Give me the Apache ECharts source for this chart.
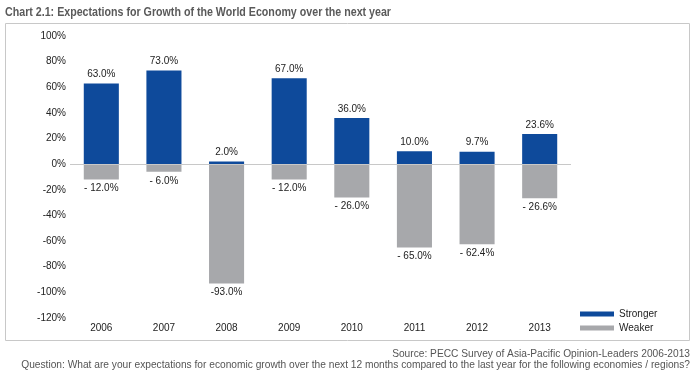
<!DOCTYPE html>
<html><head><meta charset="utf-8">
<script src="https://cdn.jsdelivr.net/npm/echarts@6/dist/echarts.min.js"></script>
<style>html,body{margin:0;padding:0;background:#fff}#c{width:700px;height:372px}</style>
</head><body><div id="c"></div>
<script>
const years = ['2006','2007','2008','2009','2010','2011','2012','2013'];
const stronger = [63.0, 73.0, 2.0, 67.0, 36.0, 10.0, 9.7, 23.6];
const weaker = [-12.0, -6.0, -93.0, -12.0, -26.0, -65.0, -62.4, -26.6];
const strongerLabels = ['63.0%','73.0%','2.0%','67.0%','36.0%','10.0%','9.7%','23.6%'];
const weakerLabels = ['- 12.0%','- 6.0%','-93.0%','- 12.0%','- 26.0%','- 65.0%','- 62.4%','- 26.6%'];
const title = 'Chart 2.1: Expectations for Growth of the World Economy over the next year';
const source = 'Source: PECC Survey of Asia-Pacific Opinion-Leaders 2006-2013';
const question = 'Question: What are your expectations for economic growth over the next 12 months compared to the last year for the following economies / regions?';

const FONT = '"Liberation Sans", Arial, sans-serif';
const chart = echarts.init(document.getElementById('c'), null, {renderer: 'canvas'});
chart.setOption({
  animation: false,
  textStyle: {fontFamily: FONT},
  graphic: [
    {type: 'rect', shape: {x: 5.5, y: 23.5, width: 684, height: 317}, style: {fill: 'none', stroke: '#c8c8c8', lineWidth: 1}, silent: true},
    {type: 'text', x: 5, y: 6, scaleX: 0.82, style: {text: title, font: 'bold 13px ' + FONT, fill: '#5a5a5a'}},
    {type: 'text', x: 690, y: 349, style: {text: source, font: '10.2px ' + FONT, fill: '#555', align: 'right'}},
    {type: 'text', x: 690, y: 360, style: {text: question, font: '10.2px ' + FONT, fill: '#555', align: 'right'}}
  ],
  legend: {
    orient: 'vertical', left: 575, top: 304, itemWidth: 34, itemHeight: 5, itemGap: 4,
    icon: 'rect',
    textStyle: {fontSize: 10, color: '#222', fontFamily: FONT},
    data: ['Stronger', 'Weaker']
  },
  grid: {left: 70, right: 129, top: 36, bottom: 54},
  xAxis: {
    type: 'category', data: years,
    axisLine: {show: false}, axisTick: {show: false},
    axisLabel: {color: '#222', fontSize: 10, margin: 5, fontFamily: FONT}
  },
  yAxis: {
    type: 'value', min: -120, max: 100, interval: 20,
    axisLine: {show: false}, axisTick: {show: false}, splitLine: {show: false},
    axisLabel: {formatter: '{value}%', color: '#222', fontSize: 10, margin: 4, fontFamily: FONT}
  },
  series: [
    {
      name: 'Stronger', type: 'bar', stack: 'a', data: stronger, barWidth: '56%',
      itemStyle: {color: '#0e4a9b'},
      label: {show: true, position: 'top', distance: 4, color: '#222', fontSize: 10, fontFamily: FONT,
        formatter: p => strongerLabels[p.dataIndex]},
      markLine: {silent: true, symbol: 'none', label: {show: false},
        lineStyle: {color: '#c8c8c8', type: 'solid', width: 1}, data: [{yAxis: 0}]}
    },
    {
      name: 'Weaker', type: 'bar', stack: 'a', data: weaker, barWidth: '56%',
      itemStyle: {color: '#a7a8ab'},
      label: {show: true, position: 'bottom', distance: 4, color: '#222', fontSize: 10, fontFamily: FONT,
        formatter: p => weakerLabels[p.dataIndex]}
    }
  ]
});
</script></body></html>
